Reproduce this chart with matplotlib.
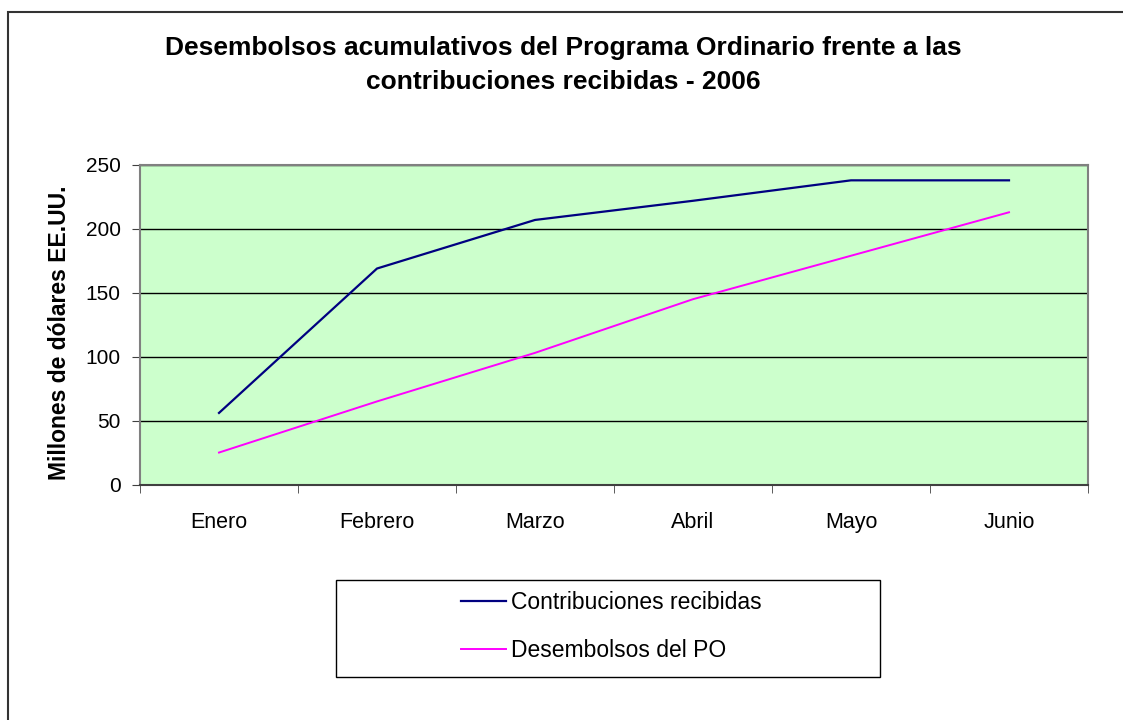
import matplotlib
matplotlib.use("Agg")
import matplotlib.pyplot as plt
from matplotlib.patches import Rectangle
import numpy as np

# Datos
meses = ["Enero", "Febrero", "Marzo", "Abril", "Mayo", "Junio"]
contribuciones = [56, 169, 207, 222, 238, 238]
desembolsos = [25, 65, 103, 145, 179, 213]
y_ticks = [0, 50, 100, 150, 200, 250]

titulo = "Desembolsos acumulativos del Programa Ordinario frente a las\ncontribuciones recibidas - 2006"
etiqueta_y = "Millones de dólares EE.UU."
nombres_series = ["Contribuciones recibidas", "Desembolsos del PO"]

plt.rcParams['font.family'] = ['Liberation Sans', 'DejaVu Sans']

fig = plt.figure(figsize=(11.23, 7.2), dpi=100)
ax = fig.add_axes([140/1123, 1 - 484.5/720, 948/1123, 319.5/720])
ax.set_facecolor("#CCFFCC")

x = np.arange(len(meses))
l1, = ax.plot(x, contribuciones, color="#000080", lw=1.6)
l2, = ax.plot(x, desembolsos, color="#FF00FF", lw=1.4)

ax.set_xlim(-0.5, len(meses) - 0.5)
ax.set_ylim(0, 250)
ax.set_yticks(y_ticks)
ax.set_yticklabels([str(v) for v in y_ticks], fontsize=15)
ax.yaxis.grid(True, color="black", lw=1.0)
ax.set_axisbelow(True)

ax.set_xticks(x)
ax.set_xticklabels(meses, fontsize=15.5)
ax.tick_params(axis="x", which="major", length=0, pad=20)
ax.set_xticks(np.arange(-0.5, len(meses), 1.0), minor=True)
ax.tick_params(axis="x", which="minor", length=6, direction="out", color="#404040")
ax.tick_params(axis="y", length=6, direction="out", color="#404040", pad=8)

for lado in ["top", "right", "left"]:
    ax.spines[lado].set_color("#808080")
    ax.spines[lado].set_linewidth(1.5)
ax.spines["bottom"].set_color("#404040")
ax.spines["bottom"].set_linewidth(1.5)

fig.text(60/1123, 1 - 333/720, etiqueta_y, rotation=90, ha="center", va="center",
         fontsize=16.5, fontweight="bold")

fig.text(563/1123, 1 - 65/720, titulo, ha="center", va="center", fontsize=19,
         fontweight="bold", linespacing=1.5)

# Caja de la leyenda
fig.patches.append(Rectangle((336/1123, 1 - 677/720), 544/1123, 97/720,
                             transform=fig.transFigure, facecolor="white",
                             edgecolor="black", lw=1.0))
fig.legend([l1, l2], nombres_series, loc="center left",
           bbox_to_anchor=(450/1123, 1 - 626.5/720), frameon=False, borderpad=0,
           fontsize=16.5, handlelength=1.96, handletextpad=0.22, labelspacing=1.05)

# Borde exterior
fig.patches.append(Rectangle((8/1123, -0.1), 1.2, 1 - 12/720 + 0.1,
                             transform=fig.transFigure, facecolor="none",
                             edgecolor="#333333", lw=1.5))

fig.savefig("out.png", dpi=100)
